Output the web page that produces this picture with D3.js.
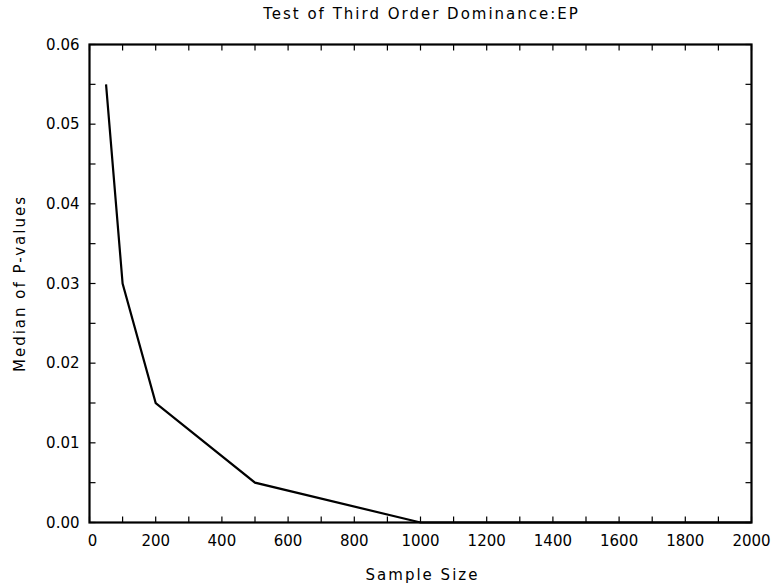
<!DOCTYPE html>
<html>
<head>
<meta charset="utf-8">
<script src="https://cdn.jsdelivr.net/npm/d3@7"></script>
<style>
body { margin: 0; background: #fff; }
text { font-family: "DejaVu Sans", sans-serif; fill: #000; }
.ttl { letter-spacing: 2px; }
</style>
</head>
<body>
<div id="chart"></div>
<script>
// data
var sampleSize = [50, 100, 200, 500, 1000, 2000];
var medianP = [0.055, 0.03, 0.015, 0.005, 0, 0];
var xTicks = [0, 200, 400, 600, 800, 1000, 1200, 1400, 1600, 1800, 2000];
var yTicks = [0, 0.01, 0.02, 0.03, 0.04, 0.05, 0.06];

var W = 774, H = 588;
var margin = {top: 44.5, right: 22.5, bottom: 65.5, left: 89.5};
var width = W - margin.left - margin.right;
var height = H - margin.top - margin.bottom;

var svg = d3.select('#chart').append('svg')
	.attr('width', W)
	.attr('height', H);

var g = svg.append('g')
	.attr('transform', 'translate(' + margin.left + ',' + margin.top + ')');

var x = d3.scaleLinear().domain([0, 2000]).range([0, width]);
var y = d3.scaleLinear().domain([0, 0.06]).range([height, 0]);

var minorX = d3.range(0, 2001, 100);
var minorY = d3.range(0, 0.0601, 0.005);
var tl = 6;

// inward ticks on all four sides
var tk = g.append('g').attr('stroke', '#000').attr('stroke-width', 1.2);
minorX.forEach(function(v){
	tk.append('line').attr('x1', x(v)).attr('x2', x(v)).attr('y1', height).attr('y2', height - tl);
	tk.append('line').attr('x1', x(v)).attr('x2', x(v)).attr('y1', 0).attr('y2', tl);
});
minorY.forEach(function(v){
	tk.append('line').attr('x1', 0).attr('x2', tl).attr('y1', y(v)).attr('y2', y(v));
	tk.append('line').attr('x1', width).attr('x2', width - tl).attr('y1', y(v)).attr('y2', y(v));
});

// frame
g.append('rect')
	.attr('width', width)
	.attr('height', height)
	.attr('fill', 'none')
	.attr('stroke', '#000')
	.attr('stroke-width', 2.2);

// tick labels
g.selectAll('.xl').data(xTicks).enter().append('text')
	.attr('x', function(d){ return x(d) + (d === 0 ? 3 : 0); })
	.attr('y', height + 23)
	.attr('text-anchor', 'middle')
	.style('font-size', '15px')
	.text(function(d){ return d; });

g.selectAll('.yl').data(yTicks).enter().append('text')
	.attr('x', -10)
	.attr('y', function(d){ return y(d) + 5; })
	.attr('text-anchor', 'end')
	.style('font-size', '15px')
	.text(function(d){ return d3.format('.2f')(d); });

// the line
var line = d3.line()
	.x(function(d, i){ return x(sampleSize[i]); })
	.y(function(d){ return y(d); });

g.append('path')
	.datum(medianP)
	.attr('d', line)
	.attr('fill', 'none')
	.attr('stroke', '#000')
	.attr('stroke-width', 2.2)
	.attr('stroke-linejoin', 'miter');

// titles
svg.append('text')
	.attr('class', 'ttl')
	.attr('x', margin.left + width / 2 + 1)
	.attr('y', 19)
	.attr('text-anchor', 'middle')
	.style('font-size', '15px')
	.text('Test of Third Order Dominance:EP');

svg.append('text')
	.attr('class', 'ttl')
	.attr('x', margin.left + width / 2 + 2)
	.attr('y', 580)
	.attr('text-anchor', 'middle')
	.style('font-size', '15px')
	.text('Sample Size');

svg.append('text')
	.attr('class', 'ttl')
	.attr('transform', 'translate(25,' + (margin.top + height / 2) + ') rotate(-90)')
	.attr('text-anchor', 'middle')
	.style('font-size', '15px')
	.text('Median of P-values');
</script>
</body>
</html>
